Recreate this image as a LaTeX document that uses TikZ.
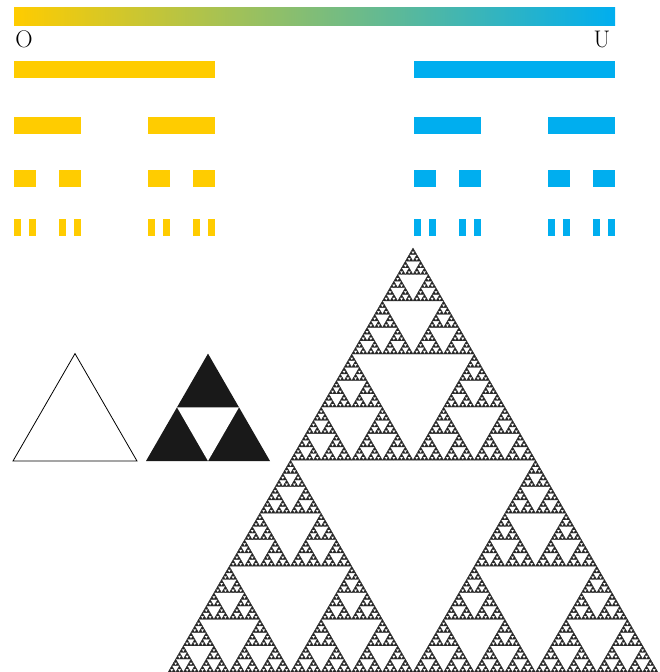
\documentclass[tikz,border=0pt]{standalone}
\usepackage{tikz}
\usetikzlibrary{positioning}
\definecolor{cantoryellow}{HTML}{FFCC00}
\definecolor{cantorblue}{HTML}{00AEEF}

% one row of a Cantor set: depth, left x, length, top y
\newcommand\cantorrow[4]{%
  \ifnum#1=0
    \fill[cantorbar] (#2,#4) rectangle ++(#3,17);
  \else
    \begingroup
      \pgfmathtruncatemacro\cdDepth{#1-1}
      \pgfmathsetmacro\cdLen{#3/3}
      \pgfmathsetmacro\cdRight{#2+2*#3/3}
      \edef\cdNext{%
        \noexpand\cantorrow{\cdDepth}{#2}{\cdLen}{#4}%
        \noexpand\cantorrow{\cdDepth}{\cdRight}{\cdLen}{#4}}%
      \cdNext
    \endgroup
  \fi}

% Sierpinski gasket: depth, left x, base y, side
\newcommand\sierpgasket[4]{%
  \ifnum#1=0
    \filldraw[gasket] (#2,#3) -- ++(#4,0) -- ++(-#4/2,-#4*0.8660254) -- cycle;
  \else
    \begingroup
      \pgfmathtruncatemacro\sgDepth{#1-1}
      \pgfmathsetmacro\sgSide{#4/2}
      \pgfmathsetmacro\sgMidX{#2+#4/2}
      \pgfmathsetmacro\sgTopX{#2+#4/4}
      \pgfmathsetmacro\sgTopY{#3-#4*0.4330127}
      \edef\sgNext{%
        \noexpand\sierpgasket{\sgDepth}{#2}{#3}{\sgSide}%
        \noexpand\sierpgasket{\sgDepth}{\sgMidX}{#3}{\sgSide}%
        \noexpand\sierpgasket{\sgDepth}{\sgTopX}{\sgTopY}{\sgSide}}%
      \sgNext
    \endgroup
  \fi}

\begin{document}
\begin{tikzpicture}[x=1pt,y=-1pt,
    gasket/.style={fill=black!85,draw=black!80,line width=0.3pt,line join=round},
    endlabel/.style={font=\fontsize{24}{28}\selectfont,inner sep=0pt}]
  \useasboundingbox (0,0) rectangle (659,672);

  % colour scale
  \shade[left color=cantoryellow,right color=cantorblue] (14,7) rectangle (615,25);
  \node[endlabel] (labelO) at (24,39) {O};
  \node[endlabel] (labelU) at (602,39) {U};

  % Cantor sets
  \foreach \lev/\ytop in {0/61,1/117,2/170,3/219}{
    \tikzset{cantorbar/.style={fill=cantoryellow}}
    \cantorrow{\lev}{14}{201}{\ytop}
    \tikzset{cantorbar/.style={fill=cantorblue}}
    \cantorrow{\lev}{414}{201}{\ytop}
  }

  % first steps
  \draw[line width=0.8pt] (13,461) -- (137,461) -- (75,353.6) -- cycle;
  \fill[black!90] (146,461) -- (270,461) -- (208,353.6) -- cycle;
  \fill[white] (177,407.3) -- (239,407.3) -- (208,461) -- cycle;

  % gasket
  \sierpgasket{7}{168}{672.3}{490}
\end{tikzpicture}
\end{document}
